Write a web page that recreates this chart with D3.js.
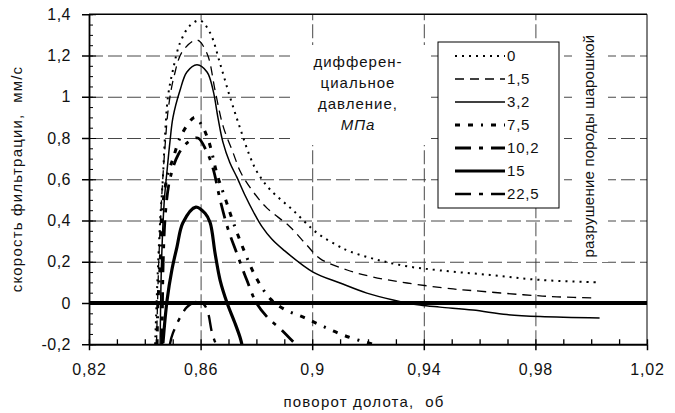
<!DOCTYPE html>
<html>
<head>
<meta charset="utf-8">
<script src="https://cdn.jsdelivr.net/npm/d3@7/dist/d3.min.js"></script>
<style>
  body { margin: 0; background: #fff; }
  text { font-family: "Liberation Sans", Arial, sans-serif; fill: #111; white-space: pre; }
</style>
</head>
<body>
<svg id="chart" width="675" height="413"></svg>
<script>
// значения осей
const xTicks = [0.82, 0.86, 0.9, 0.94, 0.98, 1.02];
const yTicks = [-0.2, 0, 0.2, 0.4, 0.6, 0.8, 1, 1.2, 1.4];
const xGrid = [0.86, 0.9, 0.94, 0.98];
const yGrid = [0.2, 0.4, 0.6, 0.8, 1, 1.2];

// дифференциальное давление, МПа
const labels = ["0", "1,5", "3,2", "7,5", "10,2", "15", "22,5"];

// кривые (поворот долота, скорость фильтрации)
const p0 = [[0.8437,-0.2],[0.8445,0.1],[0.8455,0.4],[0.8465,0.61],[0.8472,0.8],[0.8483,1.0],[0.8501,1.13],
  [0.8526,1.26],[0.8562,1.345],[0.8598,1.37],[0.8634,1.31],[0.867,1.16],[0.8705,1.0],[0.8741,0.85],
  [0.8777,0.71],[0.8805,0.63],[0.8849,0.55],[0.8931,0.45],[0.9017,0.34],[0.9089,0.28],[0.9135,0.25],
  [0.9232,0.21],[0.934,0.178],[0.9458,0.158],[0.9637,0.136],[0.9816,0.112],[1.003,0.1]];
const p15 = [[0.8442,-0.2],[0.845,0.2],[0.846,0.5],[0.8472,0.75],[0.8485,0.95],[0.8505,1.1],[0.8535,1.22],
  [0.8587,1.275],[0.8623,1.21],[0.8652,1.03],[0.868,0.86],[0.8716,0.73],[0.8745,0.63],[0.8788,0.54],
  [0.8838,0.46],[0.892,0.37],[0.8981,0.28],[0.9028,0.215],[0.9125,0.16],[0.9218,0.126],[0.934,0.097],
  [0.9505,0.068],[0.9576,0.06],[0.9756,0.04],[0.9877,0.03],[1.002,0.024]];
const p32 = [[0.8455,-0.2],[0.846,0.2],[0.847,0.5],[0.848,0.645],[0.849,0.78],[0.8501,0.9],[0.8526,1.03],
  [0.8551,1.12],[0.8587,1.155],[0.8623,1.12],[0.8645,1.03],[0.8662,0.9],[0.868,0.78],[0.8705,0.68],
  [0.873,0.61],[0.876,0.52],[0.879,0.44],[0.882,0.37],[0.8855,0.31],[0.8895,0.26],[0.9003,0.15],
  [0.91,0.097],[0.9196,0.048],[0.929,0.015],[0.9386,-0.01],[0.9458,-0.02],[0.9576,-0.034],
  [0.9698,-0.056],[0.9817,-0.066],[1.003,-0.073]];
const p75 = [[0.8444,-0.2],[0.8447,0],[0.8454,0.16],[0.8465,0.48],[0.848,0.61],[0.8501,0.7],[0.8533,0.82],
  [0.858,0.9],[0.8605,0.86],[0.863,0.78],[0.866,0.62],[0.869,0.5],[0.872,0.38],[0.876,0.24],[0.88,0.12],
  [0.885,0.02],[0.89,-0.03],[0.897,-0.07],[0.905,-0.12],[0.913,-0.165],[0.922,-0.2]];
const p102 = [[0.8462,-0.2],[0.8466,0.2],[0.8475,0.45],[0.849,0.6],[0.852,0.72],[0.8555,0.78],[0.859,0.8],
  [0.862,0.74],[0.8645,0.65],[0.867,0.5],[0.8698,0.36],[0.873,0.24],[0.8766,0.11],[0.88,0],
  [0.884,-0.07],[0.889,-0.13],[0.894,-0.2]];
const p150 = [[0.8465,-0.195],[0.848,0.015],[0.8497,0.16],[0.8515,0.27],[0.8537,0.39],[0.8583,0.465],
  [0.8616,0.435],[0.8634,0.39],[0.8652,0.24],[0.867,0.11],[0.8695,0],[0.8723,-0.097],[0.8741,-0.165],
  [0.8748,-0.2]];
const p225 = [[0.849,-0.2],[0.8501,-0.145],[0.8551,-0.02],[0.8585,0.005],[0.861,-0.005],[0.8625,-0.04],
  [0.8641,-0.145],[0.8655,-0.2]];

const series = [p0, p15, p32, p75, p102, p150, p225];

// стили линий
const styles = [
  { w: 2, dash: "2,5" },
  { w: 1.3, dash: "9,6" },
  { w: 1.5, dash: null },
  { w: 3, dash: "5,8,5,8,2,8" },
  { w: 2.8, dash: "16,8,4,8" },
  { w: 3.2, dash: null },
  { w: 2.4, dash: "16,8,4,8" }
];

const fmt = v => String(v).replace(".", ",");

const svg = d3.select("#chart");

const x = d3.scaleLinear().domain([0.82, 1.02]).range([89, 647]);
const y = d3.scaleLinear().domain([-0.2, 1.4]).range([344.25, 14.25]);

// сетка
svg.append("g")
  .attr("transform", `translate(0,${y(-0.2)})`)
  .call(d3.axisBottom(x).tickValues(xGrid).tickSize(-(y(-0.2) - y(1.4))).tickFormat(""))
  .call(g => g.select(".domain").remove())
  .selectAll("line")
  .attr("stroke", "#333").attr("stroke-width", 0.9).attr("stroke-dasharray", "14,4");

svg.append("g")
  .attr("transform", `translate(${x(0.82)},0)`)
  .call(d3.axisLeft(y).tickValues(yGrid).tickSize(-(x(1.02) - x(0.82))).tickFormat(""))
  .call(g => g.select(".domain").remove())
  .selectAll("line")
  .attr("stroke", "#333").attr("stroke-width", 0.9).attr("stroke-dasharray", "14,5");

// белые подложки под подписями
svg.append("rect").attr("x", 290).attr("y", 45).attr("width", 137).attr("height", 100).attr("fill", "#fff");
svg.append("rect").attr("x", 572).attr("y", 30).attr("width", 36).attr("height", 232).attr("fill", "#fff");

// кривые
svg.append("clipPath").attr("id", "clip")
  .append("rect")
  .attr("x", x(0.82)).attr("y", y(1.4))
  .attr("width", x(1.02) - x(0.82)).attr("height", y(-0.2) - y(1.4));

const line = d3.line()
  .x(d => x(d[0]))
  .y(d => y(d[1]))
  .curve(d3.curveCatmullRom.alpha(0.5));

const curves = svg.append("g").attr("clip-path", "url(#clip)");
series.forEach((data, i) => {
  curves.append("path")
    .datum(data)
    .attr("fill", "none")
    .attr("stroke", "#000")
    .attr("stroke-width", styles[i].w)
    .attr("stroke-dasharray", styles[i].dash)
    .attr("d", line);
});

// нулевая линия
svg.append("line")
  .attr("x1", x(0.82)).attr("x2", x(1.02))
  .attr("y1", y(0)).attr("y2", y(0))
  .attr("stroke", "#000").attr("stroke-width", 4);

// рамка
svg.append("line").attr("x1", x(0.82)).attr("x2", x(1.02)).attr("y1", y(1.4)).attr("y2", y(1.4))
  .attr("stroke", "#000").attr("stroke-width", 1.3);
svg.append("line").attr("x1", x(1.02)).attr("x2", x(1.02)).attr("y1", y(1.4)).attr("y2", y(-0.2))
  .attr("stroke", "#000").attr("stroke-width", 1);

// ось Y
const yMinor = d3.range(-0.2, 1.4001, 0.05).map(v => +v.toFixed(2));
svg.append("g")
  .attr("transform", `translate(${x(0.82)},0)`)
  .call(d3.axisRight(y).tickValues(yMinor).tickSize(4).tickFormat(""))
  .call(g => g.select(".domain").remove());
svg.append("g")
  .attr("transform", `translate(${x(0.82)},0)`)
  .call(d3.axisRight(y).tickValues(yTicks).tickSize(7).tickFormat(""))
  .call(g => g.select(".domain").remove());
const yAxis = svg.append("g")
  .attr("transform", `translate(${x(0.82)},0)`)
  .call(d3.axisLeft(y).tickValues(yTicks).tickSizeInner(7).tickSizeOuter(0).tickPadding(11).tickFormat(fmt));
yAxis.select(".domain").attr("stroke-width", 1.8);
yAxis.selectAll("line").attr("stroke-width", 1.5);
yAxis.selectAll("text").style("font-size", "16px").style("letter-spacing", "0.5px").attr("fill", "#111");

// ось X
const xMinor = d3.range(0.82, 1.0201, 0.01).map(v => +v.toFixed(2));
svg.append("g")
  .attr("transform", `translate(0,${y(-0.2)})`)
  .call(d3.axisTop(x).tickValues(xMinor).tickSize(5).tickFormat(""))
  .call(g => g.select(".domain").remove())
  .selectAll("line").attr("stroke-width", 1.3);
const xAxis = svg.append("g")
  .attr("transform", `translate(0,${y(-0.2)})`)
  .call(d3.axisBottom(x).tickValues(xTicks).tickSizeInner(6).tickSizeOuter(0).tickPadding(13).tickFormat(fmt));
xAxis.select(".domain").attr("stroke-width", 1.8);
xAxis.selectAll("line").attr("stroke-width", 1.5);
xAxis.selectAll("text").style("font-size", "16px").style("letter-spacing", "0.8px").attr("fill", "#111");

// подписи осей
svg.append("text")
  .attr("x", 364).attr("y", 407)
  .attr("text-anchor", "middle")
  .style("font-size", "15px")
  .style("letter-spacing", "1.2px")
  .text("поворот долота,  об");

svg.append("text")
  .attr("transform", "translate(22,179) rotate(-90)")
  .attr("text-anchor", "middle")
  .style("font-size", "15px")
  .style("letter-spacing", "1.2px")
  .text("скорость фильтрации,  мм/с");

// пояснение
const note = svg.append("text").attr("text-anchor", "middle")
  .style("font-size", "15px").style("letter-spacing", "1px");
["дифферен-", "циальное", "давление,"].forEach((t, i) => {
  note.append("tspan").attr("x", 358).attr("y", 67 + i * 21).text(t);
});
note.append("tspan").attr("x", 358).attr("y", 130).style("font-style", "italic").text("МПа");

svg.append("text")
  .attr("transform", "translate(594,146) rotate(-90)")
  .attr("text-anchor", "middle")
  .style("font-size", "15px")
  .style("letter-spacing", "0.2px")
  .text("разрушение породы шарошкой");

// легенда
const legend = svg.append("g");
legend.append("rect")
  .attr("x", 438).attr("y", 42).attr("width", 121).attr("height", 166)
  .attr("fill", "#fff").attr("stroke", "#000").attr("stroke-width", 1);

labels.forEach((lab, i) => {
  const ly = 56 + i * 23;
  legend.append("line")
    .attr("x1", 455).attr("x2", 505)
    .attr("y1", ly).attr("y2", ly)
    .attr("stroke", "#000")
    .attr("stroke-width", styles[i].w)
    .attr("stroke-dasharray", styles[i].dash);
  legend.append("text")
    .attr("x", 507).attr("y", ly + 5)
    .style("font-size", "15px")
    .style("letter-spacing", "0.8px")
    .text(lab);
});
</script>
</body>
</html>
